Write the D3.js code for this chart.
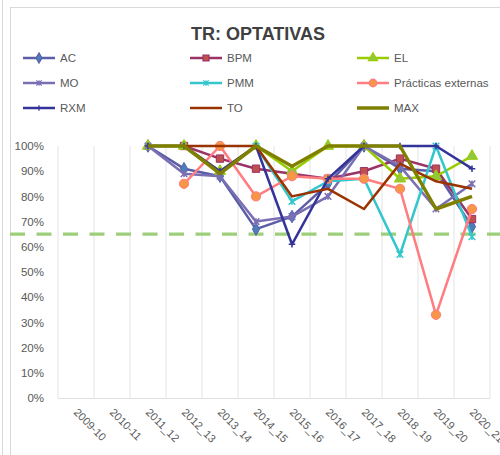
<!DOCTYPE html>
<html>
<head>
<meta charset="utf-8">
<script src="https://cdn.jsdelivr.net/npm/d3@7"></script>
<style>
  body { margin: 0; background: #fff; }
  svg { display: block; font-family: "Liberation Sans", Arial, sans-serif; }
</style>
</head>
<body>
<svg id="chart" width="500" height="455"></svg>
<script>
// categories (academic years)
var years = ["2009-10", "2010-11", "2011_12", "2012_13", "2013_14", "2014_15",
             "2015_16", "2016_17", "2017_18", "2018_19", "2019_20", "2020_21"];

// performance rate per subject, % (null = no data)
var AC       = [null, null, 100, 91, 88, 67, 72, 85, 100, 91, 90, 68];
var BPM      = [null, null, null, 100, 95, 91, 89, 87, 90, 95, 91, 71];
var EL       = [null, null, 100, 100, 90, 100, 90, 100, 100, 87, 88, 96];
var MO       = [null, null, 100, 89, 88, 70, 72, 80, 100, 92, 75, 85];
var PMM      = [null, null, null, null, null, 100, 78, 86, 87, 57, 100, 64];
var PRACT    = [null, null, null, 85, 100, 80, 88, 87, 87, 83, 33, 75];
var RXM      = [null, null, 100, 100, 90, 100, 61, 87, 100, 100, 100, 91];
var TO       = [null, null, null, 100, 100, 100, 80, 83, 75, 93, 86, 83];
var MAX      = [null, null, 100, 100, 89, 100, 92, 100, 100, 100, 75, 80];

var seriesNames = ["AC", "BPM", "EL", "MO", "PMM", "Prácticas externas", "RXM", "TO", "MAX"];
var seriesValues = [AC, BPM, EL, MO, PMM, PRACT, RXM, TO, MAX];

var yTicks = [0, 10, 20, 30, 40, 50, 60, 70, 80, 90, 100];
var threshold = 65;

// styles per series
var styles = {
  "AC":  { line: "#5b5ea6", fill: "#4a7ebb", marker: "diamond", w: 2.5 },
  "BPM": { line: "#9b3366", fill: "#c0504d", marker: "square", w: 2.5 },
  "EL":  { line: "#99cc00", fill: "#92c83e", marker: "triangle", w: 2.5 },
  "MO":  { line: "#7b6fb3", fill: "#7b6fb3", marker: "star", w: 2.5 },
  "PMM": { line: "#33c6cc", fill: "#33c6cc", marker: "star", w: 2.5 },
  "Prácticas externas": { line: "#ff7c80", fill: "#f79646", marker: "circle", w: 2.5 },
  "RXM": { line: "#333399", fill: "#333399", marker: "plus", w: 2.5 },
  "TO":  { line: "#993300", fill: "#993300", marker: null, w: 2.5 },
  "MAX": { line: "#808000", fill: "#808000", marker: null, w: 3.5 }
};

var translate = function(x, y) { return "translate(" + x + "," + y + ")"; };

var svg = d3.select("#chart");

// chart frame
svg.append("rect")
  .attr("x", 10.5).attr("y", 7.5)
  .attr("width", 500).attr("height", 460)
  .attr("fill", "none").attr("stroke", "#d9d9d9");
svg.append("line")
  .attr("x1", 2.5).attr("x2", 2.5).attr("y1", 0).attr("y2", 455)
  .attr("stroke", "#d9d9d9");

svg.append("text")
  .attr("x", 258).attr("y", 40)
  .attr("text-anchor", "middle")
  .style("font-size", "18px").style("font-weight", "bold")
  .attr("fill", "#404040")
  .text("TR: OPTATIVAS");

var plot = { left: 58, right: 490, top: 146, bottom: 398 };

var x = d3.scaleBand().domain(years).range([plot.left, plot.right]);
var y = d3.scaleLinear().domain([0, 100]).range([plot.bottom, plot.top]);

// vertical gridlines at category boundaries
var bounds = years.map(function(d) { return x(d); }).concat([plot.right]);
svg.append("g").selectAll("line")
  .data(bounds)
  .enter().append("line")
  .attr("x1", function(d) { return d; }).attr("x2", function(d) { return d; })
  .attr("y1", plot.top).attr("y2", plot.bottom)
  .attr("stroke", "#e8e8e8").attr("stroke-width", 1.2);

svg.append("line")
  .attr("x1", plot.left).attr("x2", plot.right)
  .attr("y1", plot.bottom + 0.5).attr("y2", plot.bottom + 0.5)
  .attr("stroke", "#e0e0e0");

// y axis labels
var yAxis = d3.axisLeft(y).tickValues(yTicks).tickSize(0).tickPadding(0)
  .tickFormat(function(d) { return d + "%"; });
var gy = svg.append("g").attr("transform", translate(44, 0)).call(yAxis);
gy.select(".domain").remove();
gy.selectAll("text").attr("fill", "#595959").style("font-size", "11.5px")
  .style("font-family", "Liberation Sans, Arial, sans-serif");

// x axis labels rotated
svg.append("g").selectAll("text")
  .data(years)
  .enter().append("text")
  .attr("transform", function(d) {
    return translate(x(d) + x.bandwidth() / 2 - 3, plot.bottom + 15) + " rotate(45)";
  })
  .attr("fill", "#595959")
  .style("font-size", "11px")
  .text(function(d) { return d; });

// threshold dashed line
svg.append("line")
  .attr("x1", 10).attr("x2", 500)
  .attr("y1", y(threshold)).attr("y2", y(threshold))
  .attr("stroke", "#9dcf7a").attr("stroke-width", 3.2)
  .attr("stroke-dasharray", "15,11.5");

function markerPath(type, s) {
  if (type === "diamond") return d3.symbol().type(d3.symbolDiamond).size(s * 5)();
  if (type === "square") return d3.symbol().type(d3.symbolSquare).size(s * 6)();
  if (type === "triangle") return d3.symbol().type(d3.symbolTriangle).size(s * 6)();
  if (type === "circle") return d3.symbol().type(d3.symbolCircle).size(s * 7.5)();
  var r = Math.sqrt(s) * 1.1;
  if (type === "plus") return "M" + (-r) + ",0H" + r + "M0," + (-r) + "V" + r;
  // asterisk
  return "M" + (-r) + "," + (-r) + "L" + r + "," + r + "M" + (-r) + "," + r + "L" + r + "," + (-r) +
         "M0," + (-r) + "V" + r;
}

function drawSeries(g, name, values, cx) {
  var st = styles[name];
  var pts = values.map(function(v, i) { return { cat: years[i], v: v }; });
  var line = d3.line()
    .defined(function(d) { return d.v != null; })
    .x(function(d) { return cx(d.cat); })
    .y(function(d) { return y(d.v); });
  g.append("path")
    .datum(pts)
    .attr("d", line)
    .attr("fill", "none")
    .attr("stroke", st.line)
    .attr("stroke-width", st.w)
    .attr("stroke-linejoin", "round");
  if (st.marker) {
    var open = (st.marker === "plus" || st.marker === "star");
    g.selectAll(".m")
      .data(pts.filter(function(d) { return d.v != null; }))
      .enter().append("path")
      .attr("transform", function(d) { return translate(cx(d.cat), y(d.v)); })
      .attr("d", markerPath(st.marker, 9))
      .attr("fill", open ? "none" : st.fill)
      .attr("stroke", open ? st.fill : st.line)
      .attr("stroke-width", open ? 1.5 : 1);
  }
}

var cx = function(d) { return x(d) + x.bandwidth() / 2; };
var lines = svg.append("g");
seriesNames.forEach(function(name, i) {
  drawSeries(lines.append("g"), name, seriesValues[i], cx);
});

// legend: 3 columns x 3 rows
var legend = svg.selectAll(".legend")
  .data(seriesNames)
  .enter().append("g")
  .attr("class", "legend")
  .attr("transform", function(d, i) {
    return translate(23 + (i % 3) * 167, 58 + Math.floor(i / 3) * 25);
  });

legend.append("line")
  .attr("x1", 0).attr("x2", 32).attr("y1", 0).attr("y2", 0)
  .attr("stroke", function(d) { return styles[d].line; })
  .attr("stroke-width", function(d) { return styles[d].w; });

legend.filter(function(d) { return styles[d].marker; })
  .append("path")
  .attr("transform", translate(16, 0))
  .attr("d", function(d) { return markerPath(styles[d].marker, 6); })
  .attr("fill", function(d) {
    var m = styles[d].marker;
    return (m === "plus" || m === "star") ? "none" : styles[d].fill;
  })
  .attr("stroke", function(d) {
    var m = styles[d].marker;
    return (m === "plus" || m === "star") ? styles[d].fill : styles[d].line;
  })
  .attr("stroke-width", 1.2);

legend.append("text")
  .attr("x", 37).attr("y", 0).attr("dy", "0.35em")
  .attr("fill", "#595959")
  .style("font-size", "11.5px")
  .text(function(d) { return d; });
</script>
</body>
</html>
